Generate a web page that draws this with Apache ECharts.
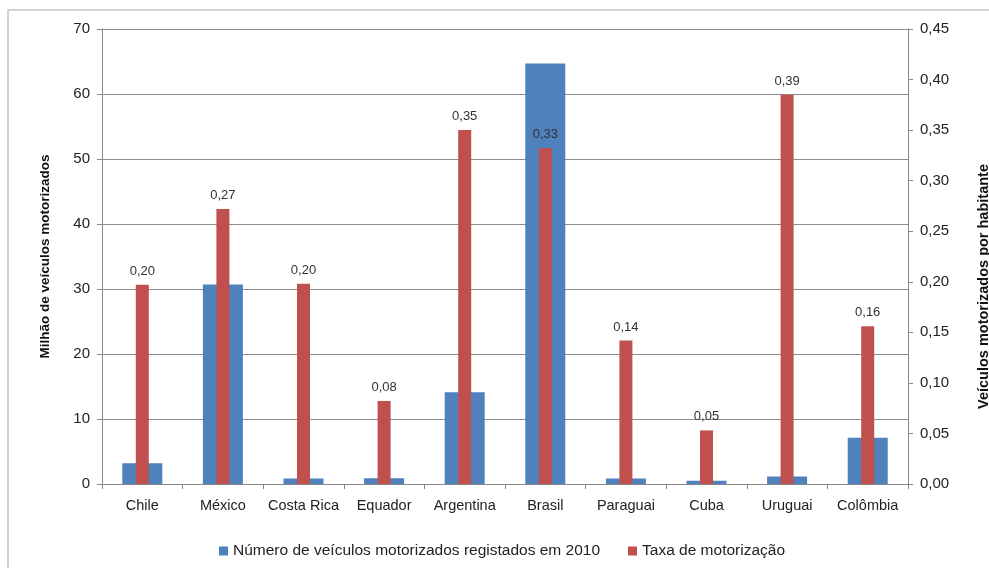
<!DOCTYPE html>
<html>
<head>
<meta charset="utf-8">
<script src="https://cdn.jsdelivr.net/npm/echarts@6/dist/echarts.min.js"></script>
<style>
  html, body { margin: 0; padding: 0; background: #fff; }
  #chart { width: 989px; height: 568px; }
</style>
</head>
<body>
<div id="chart"></div>
<script>
// países
const countries = ['Chile', 'México', 'Costa Rica', 'Equador', 'Argentina', 'Brasil', 'Paraguai', 'Cuba', 'Uruguai', 'Colômbia']
// milhões de veículos registados em 2010
const vehicles = [3.2, 30.7, 0.85, 0.9, 14.1, 64.7, 0.85, 0.5, 1.15, 7.1]
// veículos por habitante
const rate = [0.197, 0.272, 0.198, 0.082, 0.350, 0.332, 0.142, 0.053, 0.385, 0.156]

const legendNames = ['Número de veículos motorizados registados em 2010', 'Taxa de motorização']
const font = 'Liberation Sans, Arial, sans-serif'
const fmt = v => Number(v).toFixed(2).replace('.', ',')

const chart = echarts.init(document.getElementById('chart'))
chart.setOption({
  animation: false,
  textStyle: { fontFamily: font },
  graphic: [{
    type: 'rect',
    shape: { x: 8, y: 10, width: 1000, height: 600 },
    style: { fill: 'none', stroke: '#c4c4c4', lineWidth: 1.5 },
    silent: true
  }],
  grid: { left: 102, right: 81, top: 29, bottom: 84, outerBoundsMode: 'none' },
  legend: {
    bottom: 4,
    left: 214,
    icon: 'rect',
    itemWidth: 9,
    itemHeight: 9,
    itemGap: 28,
    textStyle: { color: '#222', fontSize: 15.5, fontFamily: font },
    data: legendNames
  },
  xAxis: [{
    type: 'category',
    data: countries,
    axisLine: { lineStyle: { color: '#888' } },
    axisTick: { show: true, interval: 0, length: 5, lineStyle: { color: '#888' } },
    axisLabel: { interval: 0, color: '#222', fontSize: 14.5, margin: 14 }
  }, {
    type: 'category',
    data: countries,
    show: false
  }],
  yAxis: [{
    type: 'value',
    min: 0,
    max: 70,
    interval: 10,
    name: 'Milhão de veículos motorizados',
    nameLocation: 'middle',
    nameGap: 50,
    nameTextStyle: { color: '#111', fontSize: 13.5, fontWeight: 'bold' },
    axisLine: { show: true, lineStyle: { color: '#888' } },
    axisTick: { show: true, length: 5, lineStyle: { color: '#888' } },
    axisLabel: { color: '#222', fontSize: 15, margin: 12 },
    splitLine: { lineStyle: { color: '#8c8c8c' } }
  }, {
    type: 'value',
    min: 0,
    max: 0.45,
    interval: 0.05,
    position: 'right',
    name: 'Veículos motorizados por habitante',
    nameLocation: 'middle',
    nameGap: 68,
    nameRotate: 90,
    nameTextStyle: { color: '#111', fontSize: 14.5, fontWeight: 'bold', padding: [0, 60, 0, 0] },
    axisLine: { show: true, lineStyle: { color: '#888' } },
    axisTick: { show: true, length: 5, lineStyle: { color: '#888' } },
    axisLabel: { color: '#222', fontSize: 15, margin: 12, formatter: fmt },
    splitLine: { show: false }
  }],
  series: [{
    name: legendNames[0],
    type: 'bar',
    data: vehicles,
    xAxisIndex: 0,
    yAxisIndex: 0,
    barWidth: 40,
    itemStyle: { color: '#4F81BD' }
  }, {
    name: legendNames[1],
    type: 'bar',
    data: rate,
    xAxisIndex: 1,
    yAxisIndex: 1,
    barWidth: 13,
    itemStyle: { color: '#C0504D' },
    label: {
      show: true,
      position: 'top',
      distance: 7,
      color: '#333',
      fontSize: 13,
      formatter: p => fmt(p.value)
    }
  }]
})
</script>
</body>
</html>
